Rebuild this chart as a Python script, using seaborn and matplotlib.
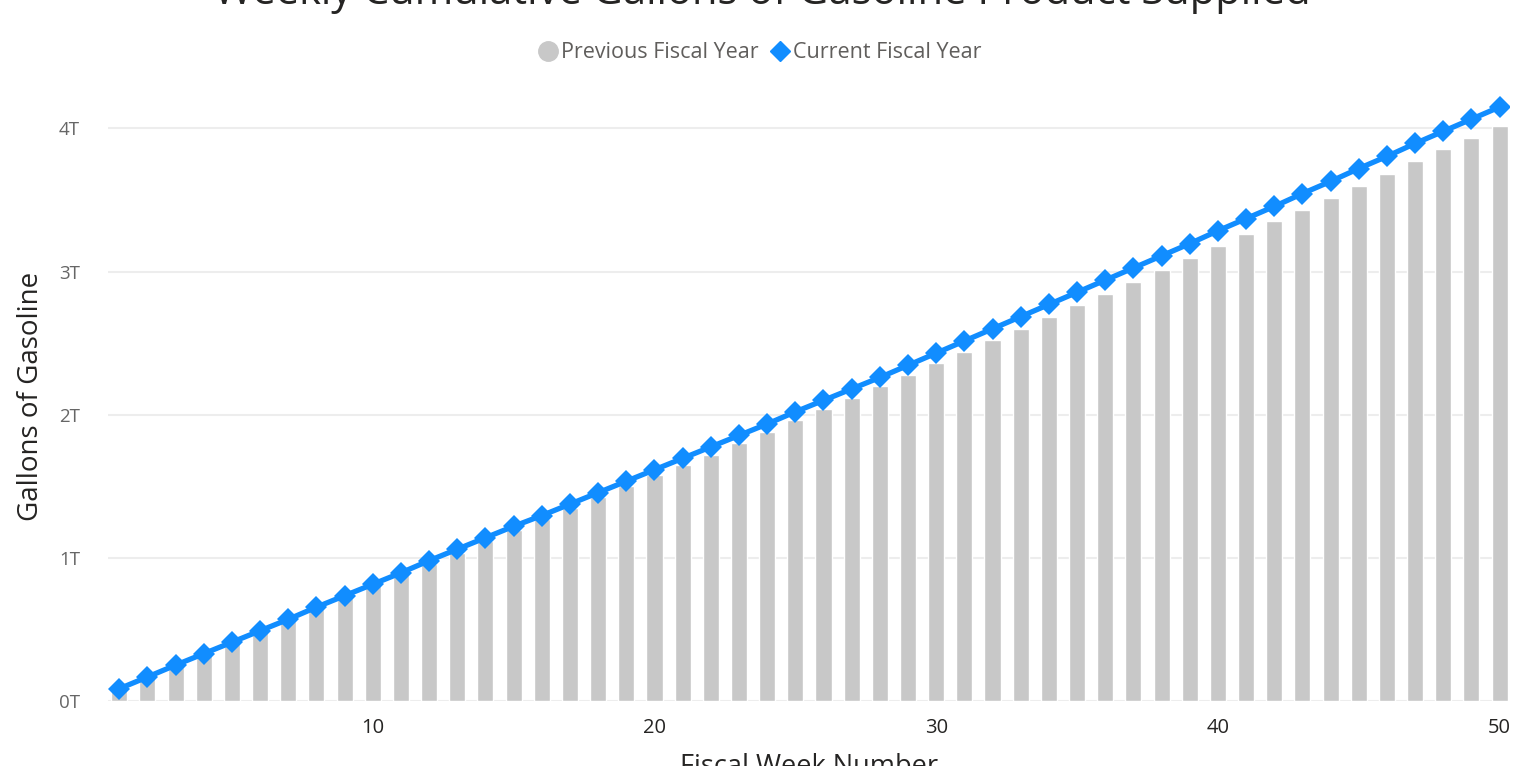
import matplotlib
matplotlib.use("Agg")
import matplotlib.pyplot as plt
import seaborn as sns
import pandas as pd
from matplotlib.lines import Line2D

# Datos (billones de galones, en T)
semanas = list(range(1, 51))
anio_anterior = [0.08, 0.16, 0.24, 0.32, 0.40, 0.48, 0.56, 0.64, 0.72, 0.80,
                 0.88, 0.955, 1.035, 1.115, 1.195, 1.27, 1.35, 1.425, 1.50, 1.575,
                 1.645, 1.72, 1.80, 1.88, 1.96, 2.04, 2.12, 2.20, 2.28, 2.36,
                 2.44, 2.52, 2.60, 2.685, 2.765, 2.845, 2.93, 3.01, 3.095, 3.18,
                 3.265, 3.35, 3.43, 3.515, 3.60, 3.685, 3.77, 3.855, 3.935, 4.02]
anio_actual = [0.085, 0.167, 0.25, 0.33, 0.41, 0.49, 0.57, 0.655, 0.735, 0.815,
               0.895, 0.98, 1.06, 1.14, 1.22, 1.295, 1.375, 1.455, 1.535, 1.615,
               1.695, 1.775, 1.855, 1.935, 2.02, 2.10, 2.18, 2.26, 2.345, 2.43,
               2.515, 2.60, 2.685, 2.77, 2.855, 2.94, 3.025, 3.11, 3.195, 3.285,
               3.37, 3.455, 3.545, 3.63, 3.72, 3.805, 3.895, 3.98, 4.065, 4.15]
ticks_y = [0, 1, 2, 3, 4]
etiquetas_y = ["0T", "1T", "2T", "3T", "4T"]
ticks_x = [10, 20, 30, 40, 50]

df = pd.DataFrame({"semana": semanas, "anterior": anio_anterior, "actual": anio_actual})

sns.set_style("white")
plt.rcParams["font.family"] = ["Open Sans", "DejaVu Sans"]

gris = "#C8C8C8"
azul = "#118DFF"

fig = plt.figure(figsize=(15.25, 7.66), dpi=100)
ax = fig.add_axes([0.0708, 0.085, 0.919, 0.794])

for y in ticks_y:
    ax.axhline(y, color="#EDEDED", lw=1.5, zorder=0)

sns.barplot(data=df, x="semana", y="anterior", native_scale=True, color=gris,
            width=0.57, saturation=1, ax=ax, zorder=2)
sns.lineplot(data=df, x="semana", y="actual", color=azul, lw=3.8, marker="D",
             markersize=11, markeredgewidth=0, ax=ax, zorder=3)

ax.set_xlim(0.6, 50.35)
ax.set_ylim(0, 4.25)
ax.set_xticks(ticks_x)
ax.set_yticks(ticks_y)
ax.set_yticklabels(etiquetas_y)
ax.tick_params(axis="y", length=0, pad=20, labelsize=13.5, labelcolor="#666666")
ax.tick_params(axis="x", length=0, pad=12, labelsize=14.5, labelcolor="#252423")
for s in ax.spines.values():
    s.set_visible(False)

ax.set_xlabel("Fiscal Week Number", fontsize=19.5, color="#252423", labelpad=11)
ax.set_ylabel("Gallons of Gasoline", fontsize=20, color="#252423", labelpad=10)

fig.text(0.5, 0.995, "Weekly Cumulative Gallons of Gasoline Product Supplied",
         ha="center", va="baseline", fontsize=30, color="#252423")

handles = [Line2D([], [], ls="", marker="o", color=gris, markersize=14),
           Line2D([], [], ls="", marker="D", color=azul, markersize=10)]
fig.legend(handles, ["Previous Fiscal Year", "Current Fiscal Year"],
           loc="center", bbox_to_anchor=(0.498, 0.931), ncol=2, frameon=False,
           fontsize=15.5, labelcolor="#605E5C", handletextpad=0.1, columnspacing=0.5,
           handlelength=1.0)

fig.savefig("out.png", dpi=100)
